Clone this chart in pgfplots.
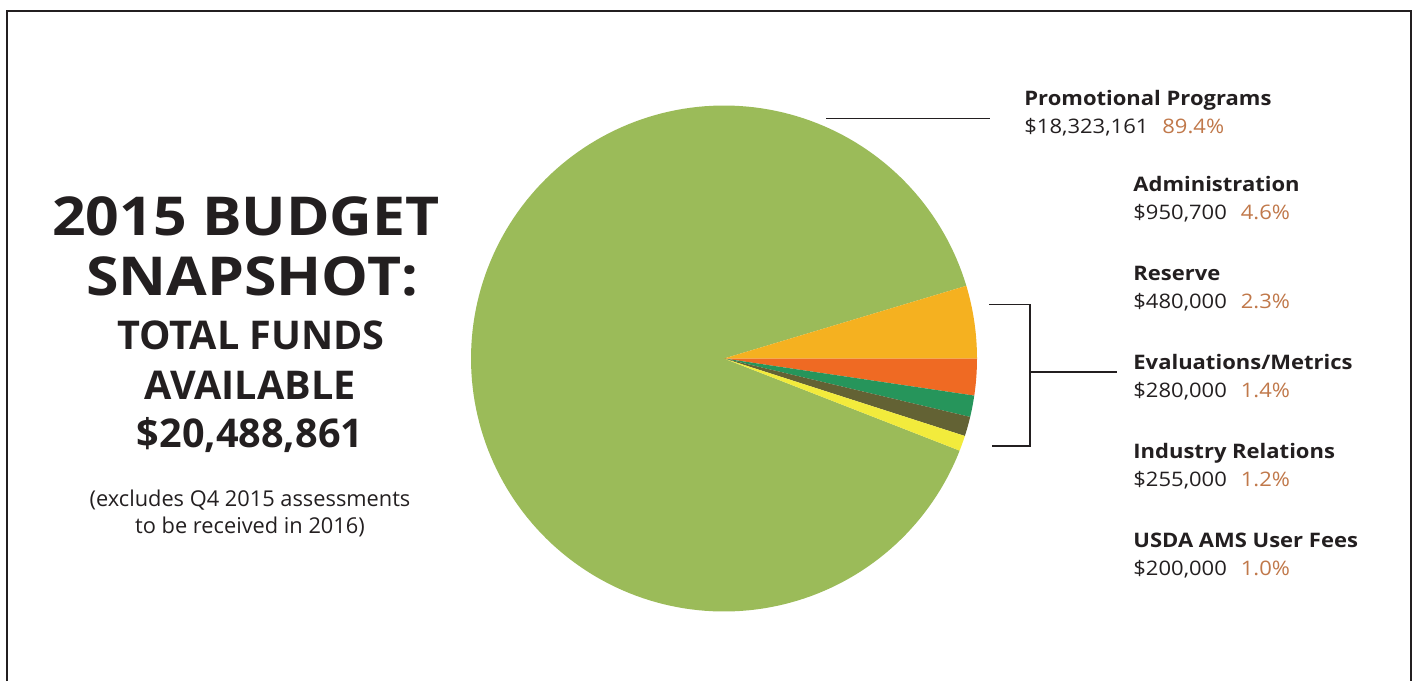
\documentclass[border=0pt]{standalone}
\usepackage{pgfplots}
\pgfplotsset{compat=1.18}
\usepackage{fontspec}
\setmainfont{Open Sans}
\newfontfamily\wide{Open Sans}[FakeStretch=1.1]
\definecolor{txt}{HTML}{231F20}
\definecolor{pct}{HTML}{C0784A}
\definecolor{cPromo}{HTML}{9BBB59}
\definecolor{cAdm}{HTML}{F5B120}
\definecolor{cRes}{HTML}{EF6A23}
\definecolor{cEval}{HTML}{26955B}
\definecolor{cInd}{HTML}{636234}
\definecolor{cUsda}{HTML}{F2EB3C}
% budget values (USD)
\newcommand\vTot{20488861}
\newcommand\vPromo{18323161}
\newcommand\vAdm{950700}
\newcommand\vRes{480000}
\newcommand\vEval{280000}
\newcommand\vInd{255000}
\newcommand\vUsda{200000}
\edef\aA{\fpeval{360*\vAdm/\vTot}}
\edef\aB{\fpeval{-360*\vRes/\vTot}}
\edef\aC{\fpeval{\aB-360*\vEval/\vTot}}
\edef\aD{\fpeval{\aC-360*\vInd/\vTot}}
\edef\aE{\fpeval{\aD-360*\vUsda/\vTot}}
\edef\aF{\fpeval{360+\aE}}
\begin{document}
\begin{tikzpicture}
\begin{axis}[
  width=706.5pt, height=340.5pt, scale only axis,
  xmin=0, xmax=1413, ymin=-681, ymax=0,
  hide axis, clip=false]
\path (axis cs:0,-681) rectangle (axis cs:1413,0);
% frame
\draw[txt, line width=1.3pt] (axis cs:7,-681) -- (axis cs:7,-11) -- (axis cs:1411,-11) -- (axis cs:1411,-681);
% pie slices
\addplot[fill=cPromo, draw=none, domain=\aA:\aF, samples=200, variable=\t] ({724+253*cos(t)}, {-358.5+253*sin(t)}) -- (axis cs:724,-358.5) -- cycle;
\addplot[fill=cAdm, draw=none, domain=0:\aA, samples=30, variable=\t] ({724+253*cos(t)}, {-358.5+253*sin(t)}) -- (axis cs:724,-358.5) -- cycle;
\addplot[fill=cRes, draw=none, domain=\aB:0, samples=20, variable=\t] ({724+253*cos(t)}, {-358.5+253*sin(t)}) -- (axis cs:724,-358.5) -- cycle;
\addplot[fill=cEval, draw=none, domain=\aC:\aB, samples=15, variable=\t] ({724+253*cos(t)}, {-358.5+253*sin(t)}) -- (axis cs:724,-358.5) -- cycle;
\addplot[fill=cInd, draw=none, domain=\aD:\aC, samples=15, variable=\t] ({724+253*cos(t)}, {-358.5+253*sin(t)}) -- (axis cs:724,-358.5) -- cycle;
\addplot[fill=cUsda, draw=none, domain=\aE:\aD, samples=15, variable=\t] ({724+253*cos(t)}, {-358.5+253*sin(t)}) -- (axis cs:724,-358.5) -- cycle;
% leader lines
\draw[txt, line width=0.75pt] (axis cs:826,-118.5) -- (axis cs:990,-118.5);
\draw[txt, line width=0.75pt] (axis cs:989,-304.5) -- (axis cs:1030,-304.5) -- (axis cs:1030,-446) -- (axis cs:992,-446);
\draw[txt, line width=0.75pt] (axis cs:1030,-372) -- (axis cs:1117,-372);
% left title
\begin{scope}[text=txt]
\node[anchor=base, inner sep=0pt, font=\wide\bfseries\fontsize{26.8}{30}\selectfont] at (axis cs:246,-235) {2015 BUDGET};
\node[anchor=base, inner sep=0pt, font=\wide\bfseries\fontsize{26.8}{30}\selectfont] at (axis cs:252,-295) {SNAPSHOT:};
\node[anchor=base, inner sep=0pt, font=\bfseries\fontsize{19.8}{24}\selectfont] at (axis cs:251,-349) {TOTAL FUNDS};
\node[anchor=base, inner sep=0pt, font=\bfseries\fontsize{19.8}{24}\selectfont] at (axis cs:250,-399) {AVAILABLE};
\node[anchor=base, inner sep=0pt, font=\bfseries\fontsize{19.8}{24}\selectfont] at (axis cs:250,-447) {\$20,488,861};
\node[anchor=base, inner sep=0pt, font=\fontsize{10.9}{13}\selectfont] at (axis cs:250,-506) {(excludes Q4 2015 assessments};
\node[anchor=base, inner sep=0pt, font=\fontsize{10.9}{13}\selectfont] at (axis cs:250,-533) {to be received in 2016)};
% right labels
\newcommand\lab[5]{%
  \node[anchor=base west, inner sep=0pt, font=\wide\bfseries\fontsize{10}{12}\selectfont] at (axis cs:#1,#2) {#3};
  \node[anchor=base west, inner sep=0pt, font=\wide\fontsize{10}{12}\selectfont] at (axis cs:#1,#2-28) {#4\hspace{0.7em}\textcolor{pct}{#5}};}
\lab{1024}{-105}{Promotional Programs}{\$18,323,161}{89.4\%}
\lab{1133}{-191}{Administration}{\$950,700}{4.6\%}
\lab{1133}{-280}{Reserve}{\$480,000}{2.3\%}
\lab{1133}{-369}{Evaluations/Metrics}{\$280,000}{1.4\%}
\lab{1133}{-458}{Industry Relations}{\$255,000}{1.2\%}
\lab{1133}{-547}{USDA AMS User Fees}{\$200,000}{1.0\%}
\end{scope}
\end{axis}
\end{tikzpicture}
\end{document}
